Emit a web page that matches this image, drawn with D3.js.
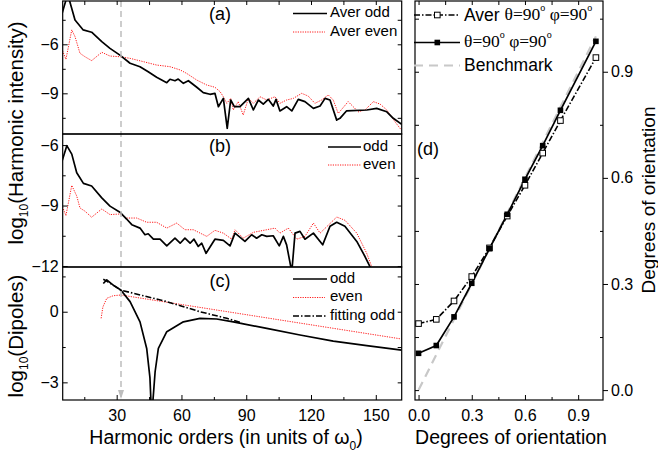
<!DOCTYPE html>
<html>
<head>
<meta charset="utf-8">
<script src="https://cdn.jsdelivr.net/npm/d3@7"></script>
<style>
  body { margin: 0; background: #fff; }
  text { font-family: "Liberation Sans", Arial, sans-serif; fill: #000; }
  .serif { font-family: "Liberation Serif", "Times New Roman", serif; }
</style>
</head>
<body>
<div id="chart"></div>
<script>
// panel (a): averaged spectra
var aOddH = [4.5,6.5,8.1,10.7,14.5,18.4,23.1,26.9,31.5,36.2,40.8,44.6,48.5,53.2,54.7,57,58.5,60.9,63.2,67.1,70.1,73.2,75.5,77.1,79.4,81.2,82.8,84.5,87.1,91,93.3,95.6,97.9,100.2,102.5,103.8,105.6,108.7,111.1,114.1,117.2,121.1,124.2,126.5,128.8,131.9,133.4,136.5,145.8,150.4,155.1,158.1,162];
var aOddV = [-4.21,-3.3,-3.3,-4.51,-5.12,-5.26,-5.84,-6.25,-6.66,-7.16,-7.37,-7.68,-8.02,-8.35,-8.14,-8.23,-8.13,-8.39,-8.23,-8.63,-8.96,-9.06,-9.0,-9.82,-9.31,-11.14,-9.41,-9.82,-9.82,-9.31,-10.02,-9.41,-9.66,-9.37,-9.78,-9.37,-10.08,-9.82,-10.08,-9.37,-9.51,-9.92,-9.78,-9.31,-9.41,-10.64,-10.53,-10.07,-10.02,-9.92,-10.13,-10.53,-10.9];
var aEvenH = [4.5,6.5,9.2,10.7,13,15.3,18.4,23.1,26.9,31.5,36.2,42.3,48.5,54.7,59.4,62.4,67.1,71.7,75.5,77.9,79.4,81,82.8,84,86.3,88.6,91,93.3,96.4,99.5,103.3,105.6,108.7,111.8,115.7,118.7,121.8,124.9,128,130.3,132.6,137.2,141.9,145,148.9,152,155.1,158.9,161.2,163];
var aEvenV = [-6.25,-6.92,-5.12,-5.53,-6.55,-6.76,-7.0,-6.49,-6.72,-6.76,-6.86,-7.06,-7.27,-7.37,-7.57,-7.78,-8.19,-8.49,-8.63,-8.9,-9.21,-9.61,-9.31,-10.02,-9.51,-10.33,-9.31,-9.61,-9.21,-9.41,-9.21,-9.61,-9.41,-9.31,-9.0,-9.17,-9.61,-9.41,-9.1,-9.41,-10.23,-9.51,-10.13,-10.02,-9.51,-9.66,-10.02,-10.74,-11.14,-11.4];

// panel (b): single orientation spectra
var bOddH = [4.5,6.9,9.2,11.5,14.6,18.4,23.1,26.9,31.5,34.6,37,40.8,43.1,44.6,47,50.1,53.2,57,59.4,61.6,64,65.8,67.8,69.4,71.4,75.5,79.4,82.5,84.8,89.4,92.5,94.8,97.2,99.5,102.5,105.3,107.2,108.7,111.1,112.6,114.9,117.2,121.1,125.4,128.8,131.9,135.7,141.2,145,147.3,150];
var bOddV = [-6.87,-6.03,-6.45,-7.37,-7.9,-8.03,-8.62,-9.03,-9.33,-9.67,-9.95,-10.12,-10.45,-10.4,-10.67,-10.67,-11.0,-10.62,-10.87,-10.62,-10.87,-10.67,-11.03,-10.87,-11.37,-10.67,-10.73,-11.0,-10.37,-10.78,-10.45,-10.62,-10.45,-10.53,-10.5,-11.0,-10.53,-10.95,-12.3,-10.37,-10.28,-10.67,-10.37,-10.95,-10.03,-9.83,-10.03,-10.78,-11.53,-12.03,-12.8];
var bEvenH = [4.5,6.5,9.2,11.5,13,15.3,18.4,23.1,26.9,31.5,34.6,39.3,43.9,48.5,53.2,57.8,61.6,65.5,71.7,75.5,79.4,83.3,84.8,88.6,93.3,99.5,103.3,105.6,109.5,113.4,117.2,121.1,124.2,131.9,135.7,141.2,145.8,148.1,151];
var bEvenV = [-8.95,-9.5,-8.0,-8.53,-9.12,-9.28,-9.58,-9.17,-9.45,-9.42,-9.62,-9.62,-9.83,-9.83,-10.12,-9.87,-10.2,-10.2,-10.53,-10.23,-10.37,-10.67,-10.2,-10.62,-10.33,-10.2,-10.12,-10.37,-10.12,-10.67,-10.53,-9.87,-10.37,-9.57,-9.73,-10.37,-11.37,-12.03,-12.8];

// panel (c): dipoles
var cOddH = [23.8,25.4,28.4,31.9,36.2,40.8,43.9,45.4,46.2,47.8,49.3,53.2,60.9,68.6,76.3,84,99.5,114.9,130.3,145.8,162];
var cOddV = [1.2,1.35,1.13,0.92,0.43,-0.43,-1.56,-2.8,-4.5,-2.55,-1.56,-0.85,-0.43,-0.28,-0.31,-0.43,-0.71,-0.99,-1.25,-1.44,-1.63];
var cEvenH = [22.8,23.6,25.4,28.4,31.9,162];
var cEvenV = [-0.28,0.2,0.57,0.68,0.71,-1.16];
var cFitH = [23.8,25.4,31.9,53.2,68.6,81,88];
var cFitV = [1.38,1.3,0.92,0.43,0,-0.28,-0.48];

// panel (d): orientation
var degX = [0,0.1,0.2,0.3,0.4,0.5,0.6,0.7,0.8,1.0];
var exactY = [0.104,0.126,0.207,0.302,0.40,0.497,0.596,0.691,0.791,0.986];
var averY = [0.188,0.20,0.252,0.321,0.402,0.492,0.579,0.67,0.762,0.94];
var benchX = [0,1];
var benchY = [0,1];

var cutoff = 32;

var W = 658, H = 455;
var svg = d3.select("#chart").append("svg").attr("width", W).attr("height", H);

var left = 62.7, right = 401.7;
var x = d3.scaleLinear().domain([5, 162]).range([left, right]);

var panels = [
  {top: 1, bottom: 134, dom: [-11.49, -3.35], major: [-6, -9], minor: [-4.5, -7.5, -10.5], tag: "(a)", tagY: 15},
  {top: 134, bottom: 267, dom: [-12.05, -5.45], major: [-6, -9, -12], minor: [-7.5, -10.5], tag: "(b)", tagY: 147},
  {top: 267, bottom: 400, dom: [-3.75, 1.9], major: [0, -3], minor: [1.5, -1.5], tag: "(c)", tagY: 282}
];

var line = function(xs, ys, xsc, ysc) {
  return d3.line().x(function(d, i) { return xsc(xs[i]); }).y(function(d, i) { return ysc(ys[i]); })(xs);
};

panels.forEach(function(p, k) {
  var y = d3.scaleLinear().domain(p.dom).range([p.bottom, p.top]);
  var g = svg.append("g");
  g.append("clipPath").attr("id", "clip" + k).append("rect")
    .attr("x", left).attr("y", p.top).attr("width", right - left).attr("height", p.bottom - p.top);
  var plot = g.append("g").attr("clip-path", "url(#clip" + k + ")");

  // axes ticks (inward)
  g.append("g").attr("transform", "translate(" + left + ",0)")
    .call(d3.axisLeft(y).tickValues(p.major).tickSize(-5).tickPadding(4).tickFormat(d3.format("d")))
    .call(function(a){ a.select(".domain").remove(); a.selectAll("text").attr("font-size", 16); });
  g.append("g").attr("transform", "translate(" + left + ",0)")
    .call(d3.axisLeft(y).tickValues(p.minor).tickSize(-3).tickFormat(""))
    .call(function(a){ a.select(".domain").remove(); });
  g.append("g").attr("transform", "translate(" + right + ",0)")
    .call(d3.axisRight(y).tickValues(p.major.concat(p.minor)).tickSize(-4).tickFormat(""))
    .call(function(a){ a.select(".domain").remove(); });
  var xt = d3.range(15, 161, 15);
  if (k === 0) {
    g.append("g").attr("transform", "translate(0," + p.top + ")")
      .call(d3.axisTop(x).tickValues(xt).tickSize(-4).tickFormat(""))
      .call(function(a){ a.select(".domain").remove(); });
  }
  if (k === 2) {
    g.append("g").attr("transform", "translate(0," + p.bottom + ")")
      .call(d3.axisBottom(x).tickValues(xt.filter(function(v){ return v % 30 === 0; })).tickSize(-5).tickPadding(10))
      .call(function(a){ a.select(".domain").remove(); a.selectAll("text").attr("font-size", 16); });
    g.append("g").attr("transform", "translate(0," + p.bottom + ")")
      .call(d3.axisBottom(x).tickValues(xt.filter(function(v){ return v % 30 !== 0; })).tickSize(-3).tickFormat(""))
      .call(function(a){ a.select(".domain").remove(); });
  }

  // data
  var sets;
  if (k === 0) sets = [[aEvenH, aEvenV, "red"], [aOddH, aOddV, "black"]];
  if (k === 1) sets = [[bEvenH, bEvenV, "red"], [bOddH, bOddV, "black"]];
  if (k === 2) sets = [[cEvenH, cEvenV, "red"], [cFitH, cFitV, "fit"], [cOddH, cOddV, "black"]];
  sets.forEach(function(s) {
    var path = plot.append("path").attr("d", line(s[0], s[1], x, y)).attr("fill", "none");
    if (s[2] === "red") path.attr("stroke", "#ff1a1a").attr("stroke-width", 1).attr("stroke-dasharray", "1.2,1.2");
    else if (s[2] === "fit") path.attr("stroke", "#000").attr("stroke-width", 1.6).attr("stroke-dasharray", "6,2,1.5,2");
    else path.attr("stroke", "#000").attr("stroke-width", 1.7).attr("stroke-linejoin", "round");
  });

  g.append("text").attr("x", 220).attr("y", p.tagY).attr("text-anchor", "middle").attr("dominant-baseline", "middle")
    .attr("font-size", 18).text(p.tag);
});

// cutoff dashed line
svg.append("line").attr("x1", x(cutoff)).attr("x2", x(cutoff)).attr("y1", 1).attr("y2", 398)
  .attr("stroke", "#bdbdbd").attr("stroke-width", 1.5).attr("stroke-dasharray", "6,4");
svg.append("path")
  .attr("d", "M" + (x(cutoff) - 3) + ",390 L" + (x(cutoff) + 3) + ",390 L" + x(cutoff) + ",399 Z")
  .attr("fill", "#bdbdbd");

// frames
panels.forEach(function(p) {
  svg.append("rect").attr("x", left).attr("y", p.top).attr("width", right - left).attr("height", p.bottom - p.top)
    .attr("fill", "none").attr("stroke", "#000").attr("stroke-width", 1.2);
});

// legends left
function legendLine(x1, x2, yy, kind) {
  var l = svg.append("line").attr("x1", x1).attr("x2", x2).attr("y1", yy).attr("y2", yy);
  if (kind === "red") l.attr("stroke", "#ff1a1a").attr("stroke-width", 1).attr("stroke-dasharray", "1.2,1.2");
  else if (kind === "fit") l.attr("stroke", "#000").attr("stroke-width", 1.6).attr("stroke-dasharray", "6,2,1.5,2");
  else l.attr("stroke", "#000").attr("stroke-width", 1.7);
}
function legendText(tx, ty, s) {
  svg.append("text").attr("x", tx).attr("y", ty).attr("dominant-baseline", "middle").attr("font-size", 15).text(s);
}
legendLine(293, 327, 13.5, "black"); legendText(330, 13.5, "Aver odd");
legendLine(293, 325, 32, "red"); legendText(330, 32, "Aver even");
legendLine(328, 361, 147, "black"); legendText(363, 147, "odd");
legendLine(328, 361, 165, "red"); legendText(363, 165, "even");
legendLine(293, 327, 279, "black"); legendText(330, 279, "odd");
legendLine(293, 325, 297.5, "red"); legendText(330, 297.5, "even");
legendLine(293, 327, 316, "fit"); legendText(330, 316, "fitting odd");

// left titles
var t1 = svg.append("text").attr("transform", "translate(23,133) rotate(-90)").attr("text-anchor", "middle").attr("font-size", 20.5);
t1.append("tspan").text("log");
t1.append("tspan").attr("font-size", 12).attr("dy", 5).text("10");
t1.append("tspan").attr("dy", -5).text("(Harmonic intensity)");
var t2 = svg.append("text").attr("transform", "translate(23,336) rotate(-90)").attr("text-anchor", "middle").attr("font-size", 20.5);
t2.append("tspan").text("log");
t2.append("tspan").attr("font-size", 12).attr("dy", 5).text("10");
t2.append("tspan").attr("dy", -5).text("(Dipoles)");
var t3 = svg.append("text").attr("x", 226).attr("y", 444).attr("text-anchor", "middle").attr("font-size", 19.5);
t3.append("tspan").text("Harmonic orders (in units of \u03c9");
t3.append("tspan").attr("font-size", 12).attr("dy", 6).text("0");
t3.append("tspan").attr("dy", -6).text(")");

// panel (d)
var dl = 415, dr = 603, dt = 1, db = 400;
var dx = d3.scaleLinear().domain([-0.02, 1.04]).range([dl, dr]);
var dy = d3.scaleLinear().domain([-0.028, 1.1]).range([db, dt]);
var dMaj = [0, 0.3, 0.6, 0.9], dMin = [0.15, 0.45, 0.75, 1.05];
var fmt = d3.format(".1f");
var dg = svg.append("g");
dg.append("clipPath").attr("id", "clipd").append("rect").attr("x", dl).attr("y", dt).attr("width", dr - dl).attr("height", db - dt);

dg.append("g").attr("transform", "translate(0," + db + ")")
  .call(d3.axisBottom(dx).tickValues(dMaj).tickSize(-5).tickPadding(10).tickFormat(fmt))
  .call(function(a){ a.select(".domain").remove(); a.selectAll("text").attr("font-size", 16); });
dg.append("g").attr("transform", "translate(0," + db + ")")
  .call(d3.axisBottom(dx).tickValues([0.15, 0.45, 0.75]).tickSize(-3).tickFormat(""))
  .call(function(a){ a.select(".domain").remove(); });
dg.append("g").attr("transform", "translate(0," + dt + ")")
  .call(d3.axisTop(dx).tickValues(dMaj.concat([0.15, 0.45, 0.75])).tickSize(-4).tickFormat(""))
  .call(function(a){ a.select(".domain").remove(); });
dg.append("g").attr("transform", "translate(" + dr + ",0)")
  .call(d3.axisRight(dy).tickValues(dMaj).tickSize(5).tickPadding(3).tickFormat(fmt))
  .call(function(a){ a.select(".domain").remove(); a.selectAll("text").attr("font-size", 16); });
dg.append("g").attr("transform", "translate(" + dr + ",0)")
  .call(d3.axisRight(dy).tickValues(dMin).tickSize(-3).tickFormat(""))
  .call(function(a){ a.select(".domain").remove(); });
dg.append("g").attr("transform", "translate(" + dl + ",0)")
  .call(d3.axisLeft(dy).tickValues(dMaj.concat(dMin)).tickSize(-4).tickFormat(""))
  .call(function(a){ a.select(".domain").remove(); });

var dplot = dg.append("g").attr("clip-path", "url(#clipd)");
dplot.append("path").attr("d", line(benchX, benchY, dx, dy)).attr("fill", "none")
  .attr("stroke", "#c8c8c8").attr("stroke-width", 2.2).attr("stroke-dasharray", "9,6");
dplot.append("path").attr("d", line(degX, averY, dx, dy)).attr("fill", "none")
  .attr("stroke", "#000").attr("stroke-width", 1.6).attr("stroke-dasharray", "6,2,1.5,2");
dplot.append("path").attr("d", line(degX, exactY, dx, dy)).attr("fill", "none")
  .attr("stroke", "#000").attr("stroke-width", 1.7);
dplot.selectAll("rect.av").data(degX).enter().append("rect")
  .attr("x", function(d){ return dx(d) - 2.8; }).attr("y", function(d, i){ return dy(averY[i]) - 2.8; })
  .attr("width", 5.6).attr("height", 5.6).attr("fill", "#fff").attr("stroke", "#000").attr("stroke-width", 1);
dplot.selectAll("rect.ex").data(degX).enter().append("rect")
  .attr("x", function(d){ return dx(d) - 2.8; }).attr("y", function(d, i){ return dy(exactY[i]) - 2.8; })
  .attr("width", 5.6).attr("height", 5.6).attr("fill", "#000");

dg.append("rect").attr("x", dl).attr("y", dt).attr("width", dr - dl).attr("height", db - dt)
  .attr("fill", "none").attr("stroke", "#000").attr("stroke-width", 1.2);

// panel (d) legend
svg.append("line").attr("x1", 414).attr("x2", 460).attr("y1", 15).attr("y2", 15)
  .attr("stroke", "#000").attr("stroke-width", 1.6).attr("stroke-dasharray", "6,2,1.5,2");
svg.append("rect").attr("x", 434.5).attr("y", 12.2).attr("width", 5.6).attr("height", 5.6)
  .attr("fill", "#fff").attr("stroke", "#000");
var lt1 = svg.append("text").attr("x", 464).attr("y", 16).attr("dominant-baseline", "middle").attr("font-size", 17.5);
lt1.append("tspan").text("Aver ");
lt1.append("tspan").attr("class", "serif").text("\u03b8=90");
lt1.append("tspan").attr("class", "serif").attr("font-size", 10).attr("dy", -7).text("o");
lt1.append("tspan").attr("class", "serif").attr("dy", 7).text(" \u03c6=90");
lt1.append("tspan").attr("class", "serif").attr("font-size", 10).attr("dy", -7).text("o");

svg.append("line").attr("x1", 414).attr("x2", 460).attr("y1", 42.5).attr("y2", 42.5)
  .attr("stroke", "#000").attr("stroke-width", 1.7);
svg.append("rect").attr("x", 434.5).attr("y", 39.7).attr("width", 5.6).attr("height", 5.6).attr("fill", "#000");
var lt2 = svg.append("text").attr("x", 464).attr("y", 43).attr("dominant-baseline", "middle").attr("font-size", 17.5).attr("class", "serif");
lt2.append("tspan").text("\u03b8=90");
lt2.append("tspan").attr("font-size", 10).attr("dy", -7).text("o");
lt2.append("tspan").attr("dy", 7).text(" \u03c6=90");
lt2.append("tspan").attr("font-size", 10).attr("dy", -7).text("o");

svg.append("line").attr("x1", 414).attr("x2", 460).attr("y1", 65.5).attr("y2", 65.5)
  .attr("stroke", "#c8c8c8").attr("stroke-width", 2.2).attr("stroke-dasharray", "9,6");
svg.append("text").attr("x", 464).attr("y", 66).attr("dominant-baseline", "middle").attr("font-size", 17.5).text("Benchmark");

svg.append("text").attr("x", 428).attr("y", 150).attr("text-anchor", "middle").attr("dominant-baseline", "middle")
  .attr("font-size", 18).text("(d)");

svg.append("text").attr("x", 511).attr("y", 444).attr("text-anchor", "middle").attr("font-size", 19.5).text("Degrees of orientation");
svg.append("text").attr("transform", "translate(655,200) rotate(-90)").attr("text-anchor", "middle").attr("font-size", 19)
  .text("Degrees of orientation");
</script>
</body>
</html>
